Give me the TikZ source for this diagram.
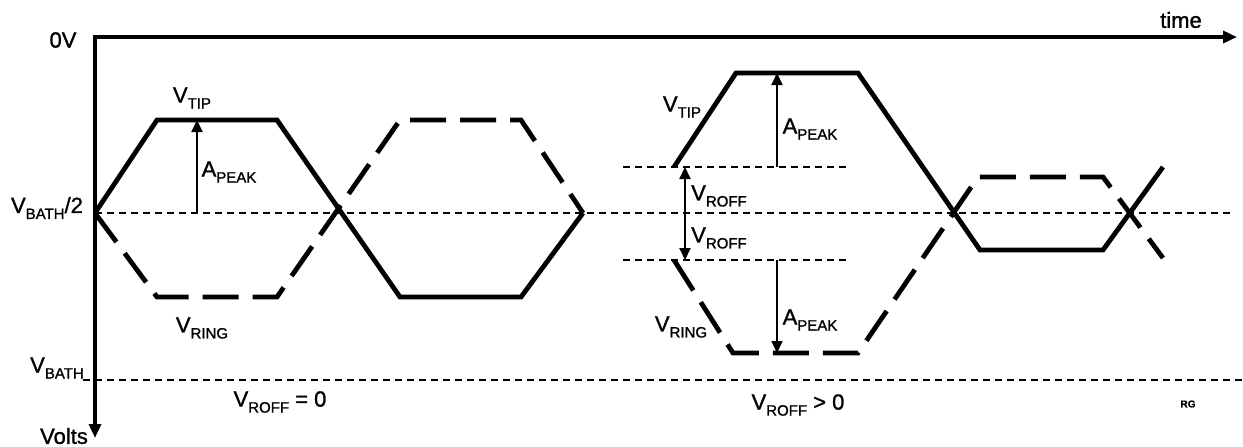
\documentclass[tikz,border=0pt]{standalone}
\usepackage{fontspec}
\setmainfont{Liberation Sans}[FakeBold=1.2]
\usetikzlibrary{arrows.meta}
\newcommand\Vsub[2]{#1\raisebox{-6pt}{\fontsize{15}{15}\selectfont #2}}
\begin{document}
\begin{tikzpicture}[x=1pt,y=-1pt,
  wave/.style={line width=4.8pt, line join=miter},
  ringwave/.style={wave, dash pattern=on 36pt off 14pt},
  guide/.style={line width=1.8pt, dash pattern=on 7pt off 5pt},
  axisline/.style={line width=4pt, line join=miter, {Triangle[length=14pt,width=12pt]}-{Triangle[length=14pt,width=12pt]}},
  meas/.style={line width=2pt, -{Triangle[length=12pt,width=11pt]}},
  lbl/.style={font=\fontsize{22}{26}\selectfont, inner sep=0pt}]
\useasboundingbox (0,0) rectangle (1243,447);
% axes
\coordinate (O) at (95,37);
\coordinate (T) at (1237,37);
\coordinate (Vb) at (95,438);
\draw[axisline] (Vb) -- (O) -- (T);
% guide lines
\coordinate (m1) at (95,213); \coordinate (m2) at (1233,213);
\coordinate (b1) at (83,380); \coordinate (b2) at (1243,380);
\coordinate (u1) at (623,167); \coordinate (u2) at (848,167);
\coordinate (l1) at (623,260); \coordinate (l2) at (848,260);
\draw[guide] (m1) -- (m2);
\draw[guide] (b1) -- (b2);
\draw[guide] (u1) -- (u2);
\draw[guide] (l1) -- (l2);
% first waveform (V_ROFF = 0)
\coordinate (a0) at (95,213);
\coordinate (a1) at (157,120); \coordinate (a2) at (277,120);
\coordinate (a3) at (400,297); \coordinate (a4) at (521,297);
\coordinate (a5) at (583,213);
\coordinate (r1) at (157,297); \coordinate (r2) at (277,297);
\coordinate (r3) at (400,120); \coordinate (r4) at (521,120);
\draw[wave] (a0) -- (a1) -- (a2) -- (a3) -- (a4) -- (a5);
\draw[ringwave] (a0) -- (r1) -- (r2) -- (r3) -- (r4) -- (a5);
% second waveform (V_ROFF > 0)
\coordinate (c0) at (674,167); \coordinate (c1) at (736,73);
\coordinate (c2) at (858,73); \coordinate (c3) at (980,250);
\coordinate (c4) at (1103,250); \coordinate (c5) at (1163,167);
\coordinate (d0) at (674,260); \coordinate (d1) at (733,353);
\coordinate (d2) at (858,353); \coordinate (d3) at (978,177);
\coordinate (d4) at (1103,177); \coordinate (d5) at (1163,258);
\draw[wave] (c0) -- (c1) -- (c2) -- (c3) -- (c4) -- (c5);
\draw[ringwave] (d0) -- (d1) -- (d2) -- (d3) -- (d4) -- (d5);
% measurement arrows
\coordinate (p0) at (197,213); \coordinate (p1) at (197,120);
\draw[meas] (p0) -- (p1);
\coordinate (q0) at (777,167); \coordinate (q1) at (777,73);
\draw[meas] (q0) -- (q1);
\coordinate (s0) at (777,260); \coordinate (s1) at (777,353);
\draw[meas] (s0) -- (s1);
\coordinate (v0) at (685,213); \coordinate (v1) at (685,167); \coordinate (v2) at (685,260);
\draw[meas] (v0) -- (v1);
\draw[meas] (v0) -- (v2);
% labels
\node[lbl] (l0V) at (63,40) {0V};
\node[lbl] (ltime) at (1181,20) {time};
\node[lbl] (lvolts) at (64,436) {Volts};
\node[lbl] (lbath2) at (47,208) {\Vsub{V}{BATH}/2};
\node[lbl] (lbath) at (57,368) {\Vsub{V}{BATH}};
\node[lbl] (ltip1) at (192,98) {\Vsub{V}{TIP}};
\node[lbl] (lring1) at (202,328) {\Vsub{V}{RING}};
\node[lbl] (lpeak1) at (229,172) {\Vsub{A}{PEAK}};
\node[lbl] (ltip2) at (682,107) {\Vsub{V}{TIP}};
\node[lbl] (lpeak2) at (810,129) {\Vsub{A}{PEAK}};
\node[lbl] (lroff1) at (719,196) {\Vsub{V}{ROFF}};
\node[lbl] (lroff2) at (719,238) {\Vsub{V}{ROFF}};
\node[lbl] (lring2) at (681,327) {\Vsub{V}{RING}};
\node[lbl] (lpeak3) at (810,320) {\Vsub{A}{PEAK}};
\node[lbl] (lroffa) at (280,402) {\Vsub{V}{ROFF} = 0};
\node[lbl] (lroffb) at (798,405) {\Vsub{V}{ROFF} > 0};
\node[inner sep=0pt, font=\fontsize{10}{12}\selectfont\bfseries] (lrg) at (1188,404) {RG};
\end{tikzpicture}
\end{document}
